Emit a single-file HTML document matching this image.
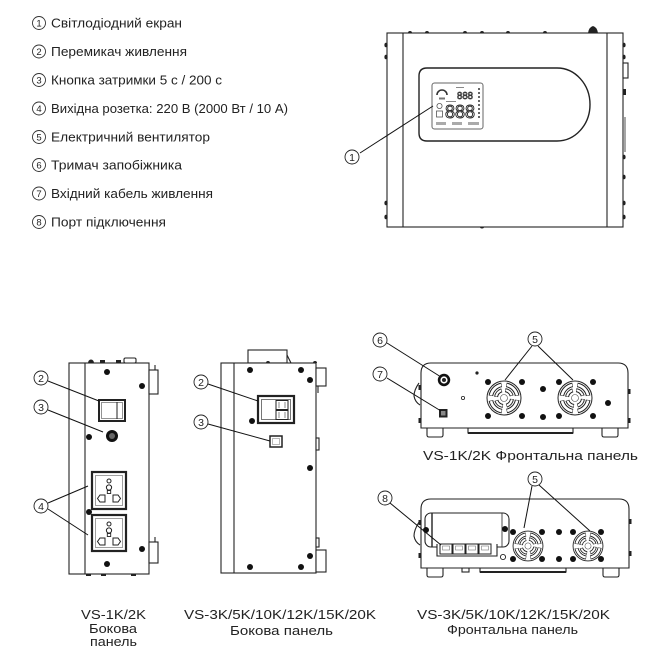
<!DOCTYPE html>
<html>
<head>
<meta charset="utf-8">
<style>
  html,body{margin:0;padding:0;background:#fff;}
  svg{display:block;}
  text{font-family:"Liberation Sans","DejaVu Sans",sans-serif;fill:#222;}
</style>
</head>
<body>
<svg width="655" height="664" viewBox="0 0 655 664" xmlns="http://www.w3.org/2000/svg">
<defs>
  <g id="fan">
    <circle cx="0" cy="0" r="17" fill="#fff" stroke="#222" stroke-width="1"/>
    <circle cx="0" cy="0" r="13.3" fill="none" stroke="#222" stroke-width="4.6" stroke-dasharray="16 4.9" stroke-dashoffset="-2"/>
    <circle cx="0" cy="0" r="13.3" fill="none" stroke="#fff" stroke-width="2.6" stroke-dasharray="15 5.9" stroke-dashoffset="-2.5"/>
    <circle cx="0" cy="0" r="8" fill="none" stroke="#222" stroke-width="4" stroke-dasharray="9 3.57" stroke-dashoffset="-1"/>
    <circle cx="0" cy="0" r="8" fill="none" stroke="#fff" stroke-width="2" stroke-dasharray="8 4.57" stroke-dashoffset="-1.5"/>
    <circle cx="0" cy="0" r="3.5" fill="#fff" stroke="#444" stroke-width="0.6"/>
  </g>
  <g id="bolt"><circle cx="0" cy="0" r="3" fill="#111"/></g>
</defs>

<!-- ============ LEGEND ============ -->
<g stroke="#333" stroke-width="0.9" fill="none">
  <circle cx="39" cy="23" r="6.5"/>
  <circle cx="39" cy="51.5" r="6.5"/>
  <circle cx="39" cy="80" r="6.5"/>
  <circle cx="39" cy="108.5" r="6.5"/>
  <circle cx="39" cy="137" r="6.5"/>
  <circle cx="39" cy="165" r="6.5"/>
  <circle cx="39" cy="193.5" r="6.5"/>
  <circle cx="39" cy="222" r="6.5"/>
</g>
<g font-size="9.5" text-anchor="middle">
  <text x="39" y="26.4">1</text>
  <text x="39" y="54.9">2</text>
  <text x="39" y="83.4">3</text>
  <text x="39" y="111.9">4</text>
  <text x="39" y="140.4">5</text>
  <text x="39" y="168.4">6</text>
  <text x="39" y="196.9">7</text>
  <text x="39" y="225.4">8</text>
</g>
<g font-size="13">
  <text x="51" y="27.5" textLength="131" lengthAdjust="spacingAndGlyphs">Світлодіодний екран</text>
  <text x="51" y="56" textLength="136" lengthAdjust="spacingAndGlyphs">Перемикач живлення</text>
  <text x="51" y="84.5" textLength="171" lengthAdjust="spacingAndGlyphs">Кнопка затримки 5 с / 200 с</text>
  <text x="51" y="113" textLength="237" lengthAdjust="spacingAndGlyphs">Вихідна розетка: 220 В (2000 Вт / 10 А)</text>
  <text x="51" y="141.5" textLength="159" lengthAdjust="spacingAndGlyphs">Електричний вентилятор</text>
  <text x="51" y="169.5" textLength="131" lengthAdjust="spacingAndGlyphs">Тримач запобіжника</text>
  <text x="51" y="198" textLength="162" lengthAdjust="spacingAndGlyphs">Вхідний кабель живлення</text>
  <text x="51" y="226.5" textLength="115" lengthAdjust="spacingAndGlyphs">Порт підключення</text>
</g>

<!-- ============ FRONT DEVICE (top right) ============ -->
<g stroke="#222" stroke-width="1.1" fill="none">
  <rect x="387" y="33" width="236" height="194" fill="#fff"/>
  <line x1="403" y1="33" x2="403" y2="227"/>
  <line x1="607" y1="33" x2="607" y2="227"/>
  <path d="M427,68 H557 A33,36.5 0 0 1 557,141 H427 Q419,141 419,133 V76 Q419,68 427,68 Z" stroke-width="1.4"/>
  <rect x="623" y="63" width="5" height="15" fill="#fff"/>
  <line x1="625" y1="117" x2="625" y2="152" stroke-width="0.8"/>
</g>
<g fill="#222">
  <path d="M408,33 a2,2 0 0 1 4,0 Z"/>
  <path d="M425,33 a2,2 0 0 1 4,0 Z"/>
  <path d="M463,33 a2,2 0 0 1 4,0 Z"/>
  <path d="M480,33 a2,2 0 0 1 4,0 Z"/>
  <path d="M506,33 a2,2 0 0 1 4,0 Z"/>
  <path d="M543,33 a2,2 0 0 1 4,0 Z"/>
  <path d="M588,33 Q589,27 593,26 Q597,27 598,33 Z"/>
  <ellipse cx="386" cy="45" rx="1.6" ry="2.3"/>
  <ellipse cx="386" cy="57" rx="1.6" ry="2.3"/>
  <ellipse cx="386" cy="203" rx="1.6" ry="2.3"/>
  <ellipse cx="386" cy="217" rx="1.6" ry="2.3"/>
  <ellipse cx="624" cy="45" rx="1.6" ry="2.3"/>
  <ellipse cx="624" cy="57" rx="1.6" ry="2.3"/>
  <rect x="623" y="89" width="3" height="6"/>
  <ellipse cx="624" cy="157" rx="1.6" ry="2.3"/>
  <ellipse cx="624" cy="177" rx="1.6" ry="2.3"/>
  <ellipse cx="624" cy="203" rx="1.6" ry="2.3"/>
  <ellipse cx="624" cy="217" rx="1.6" ry="2.3"/>
  <path d="M480,227 a2,1.5 0 0 0 4,0 Z"/>
</g>
<!-- LCD -->
<g>
  <rect x="432" y="83" width="51" height="46" rx="2.5" fill="#fff" stroke="#666" stroke-width="1"/>
  <path d="M437,95 A5,5 0 0 1 447,95" fill="none" stroke="#333" stroke-width="1.6"/>
  <rect x="439" y="97.5" width="6" height="2" fill="#777"/>
  <rect x="456" y="87" width="8" height="1" fill="#888"/>
  <text x="457" y="99" font-size="10" textLength="16" lengthAdjust="spacingAndGlyphs" style="fill:#fff;stroke:#333;stroke-width:0.7">888</text>
  <g fill="#666">
    <rect x="478" y="88" width="2" height="2"/><rect x="478" y="92" width="2" height="2"/>
    <rect x="478" y="96" width="2" height="2"/><rect x="478" y="100" width="2" height="2"/>
    <rect x="478" y="104" width="2" height="2"/><rect x="478" y="108" width="2" height="2"/>
    <rect x="478" y="112" width="2" height="2"/><rect x="478" y="116" width="2" height="2"/>
  </g>
  <circle cx="439.5" cy="106" r="2.6" fill="none" stroke="#555" stroke-width="0.8"/>
  <rect x="436.5" y="111" width="6" height="6" fill="none" stroke="#555" stroke-width="0.8"/>
  <rect x="446" y="101" width="10" height="1" fill="#888"/>
  <text x="445" y="118" font-size="18" textLength="30" lengthAdjust="spacingAndGlyphs" style="fill:#fff;stroke:#222;stroke-width:0.9">888</text>
  <rect x="436" y="122" width="10" height="3" fill="#aaa"/>
  <rect x="452" y="122" width="10" height="3" fill="#aaa"/>
  <rect x="468" y="122" width="11" height="3" fill="#aaa"/>
</g>
<!-- callout 1 -->
<line x1="360" y1="153" x2="433" y2="106" stroke="#111" stroke-width="1"/>
<circle cx="352" cy="157" r="7" fill="#fff" stroke="#222" stroke-width="0.9"/>
<text x="352" y="161" font-size="10.5" text-anchor="middle">1</text>

<!-- ============ SIDE DEVICE 1 ============ -->
<g stroke="#222" stroke-width="1.1" fill="none">
  <rect x="69" y="363" width="80" height="211" fill="#fff"/>
  <line x1="85" y1="363" x2="85" y2="574"/>
  <rect x="124" y="358" width="12" height="5" rx="1.5" fill="#fff"/>
  <rect x="149" y="370" width="9" height="24" fill="#fff"/>
  <line x1="155" y1="365" x2="155" y2="370"/>
  <rect x="149" y="542" width="9" height="21" fill="#fff"/>
  <line x1="155" y1="537" x2="155" y2="542"/>
</g>
<g fill="#222">
  <path d="M88,363 a3,3.5 0 0 1 6,0 Z"/>
  <rect x="100" y="360" width="5" height="3"/>
  <rect x="116" y="360" width="5" height="3"/>
  <rect x="86" y="574" width="5" height="2"/>
  <rect x="101" y="574" width="5" height="2"/>
  <rect x="131" y="574" width="5" height="2"/>
</g>
<!-- switch -->
<rect x="99" y="400" width="26" height="21" fill="#fff" stroke="#222" stroke-width="2"/>
<rect x="101.5" y="402.5" width="21" height="16" fill="none" stroke="#666" stroke-width="0.7"/>
<line x1="117" y1="402" x2="117" y2="419" stroke="#222" stroke-width="1"/>
<!-- button -->
<circle cx="112" cy="436" r="6" fill="#111"/>
<circle cx="112" cy="436" r="3" fill="#666"/>
<!-- sockets -->
<g>
  <rect x="92" y="472" width="34" height="37" fill="#fff" stroke="#222" stroke-width="2.2"/>
  <rect x="95.5" y="475.5" width="27" height="30" fill="none" stroke="#777" stroke-width="0.7"/>
  <circle cx="109" cy="481" r="2" fill="none" stroke="#222" stroke-width="1"/>
  <circle cx="109" cy="487.5" r="2.6" fill="none" stroke="#222" stroke-width="1"/>
  <rect x="107.3" y="490.5" width="3.4" height="3" fill="none" stroke="#222" stroke-width="0.9"/>
  <path d="M105,495 H100 L97.5,498.5 L100,502 H105 Z" fill="none" stroke="#222" stroke-width="1"/>
  <path d="M113,495 H118 L120.5,498.5 L118,502 H113 Z" fill="none" stroke="#222" stroke-width="1"/>
</g>
<g transform="translate(0,43)">
  <rect x="92" y="472" width="34" height="36" fill="#fff" stroke="#222" stroke-width="2.2"/>
  <rect x="95.5" y="475.5" width="27" height="29" fill="none" stroke="#777" stroke-width="0.7"/>
  <circle cx="109" cy="481" r="2" fill="none" stroke="#222" stroke-width="1"/>
  <circle cx="109" cy="487.5" r="2.6" fill="none" stroke="#222" stroke-width="1"/>
  <rect x="107.3" y="490.5" width="3.4" height="3" fill="none" stroke="#222" stroke-width="0.9"/>
  <path d="M105,495 H100 L97.5,498.5 L100,502 H105 Z" fill="none" stroke="#222" stroke-width="1"/>
  <path d="M113,495 H118 L120.5,498.5 L118,502 H113 Z" fill="none" stroke="#222" stroke-width="1"/>
</g>
<use href="#bolt" x="107" y="372"/>
<use href="#bolt" x="142" y="386"/>
<use href="#bolt" x="89" y="437"/>
<use href="#bolt" x="89" y="512"/>
<use href="#bolt" x="142" y="549"/>
<use href="#bolt" x="107" y="564"/>
<!-- callouts -->
<g stroke="#111" stroke-width="1">
  <line x1="48" y1="381" x2="99" y2="401"/>
  <line x1="48" y1="410" x2="103" y2="432"/>
  <line x1="48" y1="503" x2="88" y2="486"/>
  <line x1="48" y1="509" x2="88" y2="535"/>
</g>
<g fill="#fff" stroke="#222" stroke-width="0.9">
  <circle cx="41" cy="378" r="7"/>
  <circle cx="41" cy="407" r="7"/>
  <circle cx="41" cy="506" r="7"/>
</g>
<g font-size="10.5" text-anchor="middle">
  <text x="41" y="382">2</text>
  <text x="41" y="411">3</text>
  <text x="41" y="510">4</text>
</g>

<!-- ============ SIDE DEVICE 2 ============ -->
<g stroke="#222" stroke-width="1.1" fill="none">
  <rect x="248" y="350" width="39" height="13" fill="#fff"/>
  <line x1="287" y1="355" x2="291" y2="363"/>
  <rect x="221" y="363" width="95" height="210" fill="#fff"/>
  <line x1="234" y1="363" x2="234" y2="573"/>
  <rect x="316" y="368" width="10" height="18" fill="#fff"/>
  <line x1="318" y1="386" x2="318" y2="393"/>
  <rect x="316" y="438" width="3" height="12" fill="#fff"/>
  <rect x="316" y="538" width="3" height="9" fill="#fff"/>
  <rect x="316" y="550" width="10" height="22" fill="#fff"/>
</g>
<path d="M266,363 a2,2 0 0 1 4,0 Z" fill="#222"/>
<path d="M313,363 a2,2 0 0 1 4,0 Z" fill="#222"/>
<!-- switch -->
<rect x="258" y="396" width="36" height="27" fill="#fff" stroke="#222" stroke-width="2.2"/>
<rect x="261.5" y="399.5" width="29" height="20" fill="none" stroke="#555" stroke-width="0.8"/>
<rect x="276" y="400.5" width="12" height="9" fill="none" stroke="#222" stroke-width="1"/>
<rect x="276" y="410.5" width="12" height="9" fill="none" stroke="#222" stroke-width="1"/>
<line x1="279" y1="402" x2="279" y2="408" stroke="#555" stroke-width="0.7"/>
<line x1="285" y1="402" x2="285" y2="408" stroke="#555" stroke-width="0.7"/>
<line x1="279" y1="412" x2="279" y2="418" stroke="#555" stroke-width="0.7"/>
<line x1="285" y1="412" x2="285" y2="418" stroke="#555" stroke-width="0.7"/>
<!-- button square -->
<rect x="270" y="436" width="12" height="11" fill="#fff" stroke="#222" stroke-width="1.5"/>
<rect x="272.5" y="438.5" width="7" height="6" fill="none" stroke="#888" stroke-width="0.6"/>
<use href="#bolt" x="250" y="370"/>
<use href="#bolt" x="301" y="370"/>
<use href="#bolt" x="310" y="380"/>
<use href="#bolt" x="252" y="421"/>
<use href="#bolt" x="310" y="468"/>
<use href="#bolt" x="310" y="556"/>
<use href="#bolt" x="250" y="567"/>
<use href="#bolt" x="301" y="567"/>
<g stroke="#111" stroke-width="1">
  <line x1="208" y1="384" x2="258" y2="401"/>
  <line x1="208" y1="424" x2="270" y2="441"/>
</g>
<g fill="#fff" stroke="#222" stroke-width="0.9">
  <circle cx="201" cy="382" r="7"/>
  <circle cx="201" cy="422" r="7"/>
</g>
<g font-size="10.5" text-anchor="middle">
  <text x="201" y="386">2</text>
  <text x="201" y="426">3</text>
</g>

<!-- ============ FRONT PANEL 1 ============ -->
<g stroke="#222" stroke-width="1.1" fill="#fff">
  <path d="M427,428 V435 Q427,437 429,437 H441 Q443,437 443,435 V428"/>
  <path d="M602,428 V435 Q602,437 604,437 H616 Q618,437 618,435 V428"/>
  <rect x="468" y="428" width="105" height="5"/>
  <path d="M421,428 V373 Q421,363 431,363 H618 Q628,363 628,373 V428 Z"/>
  <path d="M419,383 Q414,390 414,396 Q415,402 420,405" fill="none"/>
</g>
<rect x="468" y="432" width="105" height="2" fill="#222"/>
<g fill="#222">
  <rect x="418.5" y="385" width="2.5" height="5"/>
  <rect x="418.5" y="418" width="2.5" height="5"/>
  <rect x="628" y="389" width="2.5" height="5"/>
  <rect x="628" y="418" width="2.5" height="5"/>
</g>
<circle cx="444" cy="380" r="6.2" fill="#111"/>
<circle cx="444" cy="380" r="3.6" fill="#fff"/>
<circle cx="444" cy="380" r="2" fill="#222"/>
<rect x="439" y="409" width="8.5" height="8.5" fill="#222"/>
<rect x="441" y="411" width="4.5" height="4.5" fill="#888"/>
<circle cx="477" cy="373" r="1.6" fill="#222"/>
<circle cx="463" cy="398" r="1.6" fill="none" stroke="#222" stroke-width="0.8"/>
<use href="#fan" x="504" y="398"/>
<use href="#fan" x="575" y="398"/>
<use href="#bolt" x="488" y="382"/>
<use href="#bolt" x="522" y="382"/>
<use href="#bolt" x="488" y="416"/>
<use href="#bolt" x="522" y="416"/>
<use href="#bolt" x="559" y="382"/>
<use href="#bolt" x="593" y="382"/>
<use href="#bolt" x="559" y="416"/>
<use href="#bolt" x="593" y="416"/>
<use href="#bolt" x="543" y="389"/>
<use href="#bolt" x="543" y="417"/>
<use href="#bolt" x="608" y="403"/>
<g stroke="#111" stroke-width="1">
  <line x1="387" y1="343" x2="441" y2="377"/>
  <line x1="387" y1="378" x2="441" y2="411"/>
  <line x1="532" y1="346" x2="505" y2="380"/>
  <line x1="538" y1="346" x2="573" y2="380"/>
</g>
<g fill="#fff" stroke="#222" stroke-width="0.9">
  <circle cx="380" cy="340" r="7"/>
  <circle cx="380" cy="374" r="7"/>
  <circle cx="535" cy="339" r="7"/>
</g>
<g font-size="10.5" text-anchor="middle">
  <text x="380" y="344">6</text>
  <text x="380" y="378">7</text>
  <text x="535" y="343">5</text>
</g>

<!-- ============ FRONT PANEL 2 ============ -->
<g stroke="#222" stroke-width="1.1" fill="#fff">
  <path d="M427,568 V575 Q427,577 429,577 H441 Q443,577 443,575 V568"/>
  <path d="M603,568 V575 Q603,577 605,577 H617 Q619,577 619,575 V568"/>
  <rect x="462" y="568" width="7" height="4"/>
  <rect x="480" y="568" width="86" height="4"/>
  <path d="M421,568 V509 Q421,499 431,499 H619 Q629,499 629,509 V568 Z"/>
  <path d="M419,522 Q414,530 414,536 Q415,542 420,545" fill="none"/>
</g>
<rect x="480" y="571" width="86" height="2" fill="#222"/>
<g fill="#222">
  <rect x="418.5" y="520" width="2.5" height="5"/>
  <rect x="418.5" y="553" width="2.5" height="5"/>
  <rect x="629" y="519" width="2.5" height="5"/>
  <rect x="629" y="551" width="2.5" height="5"/>
</g>
<!-- connector panel -->
<rect x="425" y="513" width="84" height="34" rx="6" fill="#fff" stroke="#222" stroke-width="1.1"/>
<line x1="432" y1="513" x2="432" y2="547" stroke="#222" stroke-width="1.4"/>
<line x1="502" y1="513" x2="502" y2="547" stroke="#222" stroke-width="0.8"/>
<use href="#bolt" x="426" y="530"/>
<use href="#bolt" x="505" y="529"/>
<path d="M437,544 V556 H497 V544" fill="#fff" stroke="#222" stroke-width="1.1"/>
<g fill="#fff" stroke="#222" stroke-width="1">
  <rect x="440" y="544" width="12" height="10"/>
  <rect x="453" y="544" width="12" height="10"/>
  <rect x="466" y="544" width="12" height="10"/>
  <rect x="479" y="544" width="12" height="10"/>
</g>
<g fill="none" stroke="#777" stroke-width="0.6">
  <rect x="442.5" y="546" width="7" height="4"/>
  <rect x="455.5" y="546" width="7" height="4"/>
  <rect x="468.5" y="546" width="7" height="4"/>
  <rect x="481.5" y="546" width="7" height="4"/>
</g>
<circle cx="503" cy="557" r="2.6" fill="none" stroke="#222" stroke-width="0.9"/>
<g transform="translate(528,546) scale(0.88)"><use href="#fan"/></g>
<g transform="translate(588,546) scale(0.88)"><use href="#fan"/></g>
<use href="#bolt" x="513" y="532"/>
<use href="#bolt" x="542" y="532"/>
<use href="#bolt" x="513" y="559"/>
<use href="#bolt" x="542" y="559"/>
<use href="#bolt" x="573" y="532"/>
<use href="#bolt" x="601" y="532"/>
<use href="#bolt" x="573" y="559"/>
<use href="#bolt" x="601" y="559"/>
<use href="#bolt" x="559" y="532"/>
<use href="#bolt" x="559" y="559"/>
<g stroke="#111" stroke-width="1">
  <line x1="390" y1="503" x2="441" y2="545"/>
  <line x1="532" y1="486" x2="524" y2="528"/>
  <line x1="539" y1="485" x2="590" y2="531"/>
</g>
<g fill="#fff" stroke="#222" stroke-width="0.9">
  <circle cx="385" cy="498" r="7"/>
  <circle cx="535" cy="479" r="7"/>
</g>
<g font-size="10.5" text-anchor="middle">
  <text x="385" y="502">8</text>
  <text x="535" y="483">5</text>
</g>

<!-- ============ CAPTIONS ============ -->
<g font-size="12.5">
  <text x="423" y="460" textLength="215" lengthAdjust="spacingAndGlyphs">VS-1K/2K Фронтальна панель</text>

  <text x="81" y="619" textLength="65" lengthAdjust="spacingAndGlyphs">VS-1K/2K</text>
  <text x="89" y="633" textLength="48" lengthAdjust="spacingAndGlyphs">Бокова</text>
  <text x="90" y="646" textLength="47" lengthAdjust="spacingAndGlyphs">панель</text>

  <text x="184" y="619" textLength="192" lengthAdjust="spacingAndGlyphs">VS-3K/5K/10K/12K/15K/20K</text>
  <text x="230" y="635" textLength="103" lengthAdjust="spacingAndGlyphs">Бокова панель</text>

  <text x="417" y="619" textLength="193" lengthAdjust="spacingAndGlyphs">VS-3K/5K/10K/12K/15K/20K</text>
  <text x="447" y="634" textLength="131" lengthAdjust="spacingAndGlyphs">Фронтальна панель</text>
</g>
</svg>
</body>
</html>
